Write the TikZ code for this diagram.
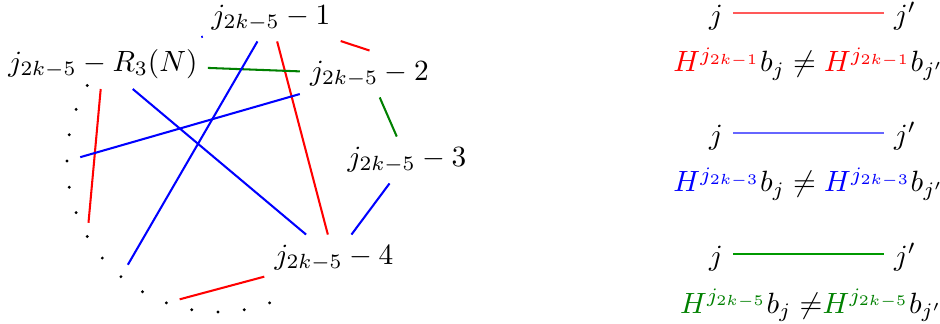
\documentclass[tikz,border=0pt]{standalone}
\usepackage{amsmath}
\usepackage{amssymb}
\usepackage{tikz}

\begin{document}
\begin{tikzpicture}[x=0.341pt,y=-0.341pt]
    \tikzset{vertex/.style = {shape=rectangle,draw=none}}
    \tikzset{vertex2/.style = {shape=circle,draw=none,inner sep=0pt,minimum size=9pt}}
    \tikzset{key/.style = {shape=rectangle,draw=none,text height=8pt,text depth=0.2pt}}
    \tikzset{edge/.style = {-,line width=0.7pt}}
    \tikzset{keyedge/.style = {-,line width=0.6pt}}
    \useasboundingbox (0,0) rectangle (940,324);

    % vertices

    \node[vertex] (r) at (103,64) {$j_{2k-5}-R_3(N)$};
    \node[vertex] (a) at (271,18) {$j_{2k-5}-1$};
    \node[vertex] (b) at (369.5,74) {$j_{2k-5}-2$};
    \node[vertex] (c) at (407,160) {$j_{2k-5}-3$};
    \node[vertex] (d) at (334,258) {$j_{2k-5}-4$};

    % dots
    \foreach \t in {150,160,...,290}{
        \node[vertex2] (p\t) at ({218+151*cos(\t)},{161-151*sin(\t)}) {};
        \fill (p\t) circle (1.6);
    }

    % edges
    \draw[edge,red] (a) to (d);
    \draw[edge,red] (a) to (b.north);
    \draw[edge,red] (r) to (p210);
    \draw[edge,red] (p250) to (d);
    \draw[edge,green!50!black] (r) to (b);
    \draw[edge,green!50!black] (b) to (c);
    \draw[edge,blue] (a) to (p230);
    \draw[edge,blue] (r) to (d);
    \draw[edge,blue] (b) to (p180);
    \draw[edge,blue] (c) to (d);
    \draw[edge,blue,shorten <=3pt] (r) to (a);

    % key
    \node[key] (j1) at (716,13) {$j$};
    \node[key] (k1) at (905,13) {$j'$};
    \draw[keyedge,red!65] (j1) to (k1);
    \node[vertex,anchor=base] (h1) at (808.5,71.7) {${\color{red}H^{j_{2k-1}}}b_j \neq {\color{red}H^{j_{2k-1}}}b_{j'}$};

    \node[key] (j2) at (716,133) {$j$};
    \node[key] (k2) at (905,133) {$j'$};
    \draw[keyedge,blue!60] (j2) to (k2);
    \node[vertex,anchor=base] (h2) at (808.5,191.7) {${\color{blue}H^{j_{2k-3}}}b_j \neq {\color{blue}H^{j_{2k-3}}}b_{j'}$};

    \node[key] (j3) at (716,254) {$j$};
    \node[key] (k3) at (905,254) {$j'$};
    \draw[keyedge,green!60!black] (j3) to (k3);
    \node[vertex,anchor=base] (h3) at (811,313.3) {${\color{green!50!black}H^{j_{2k-5}}}b_j \neq\mskip-\thickmuskip{\color{green!50!black}H^{j_{2k-5}}}b_{j'}$};
\end{tikzpicture}
\end{document}
